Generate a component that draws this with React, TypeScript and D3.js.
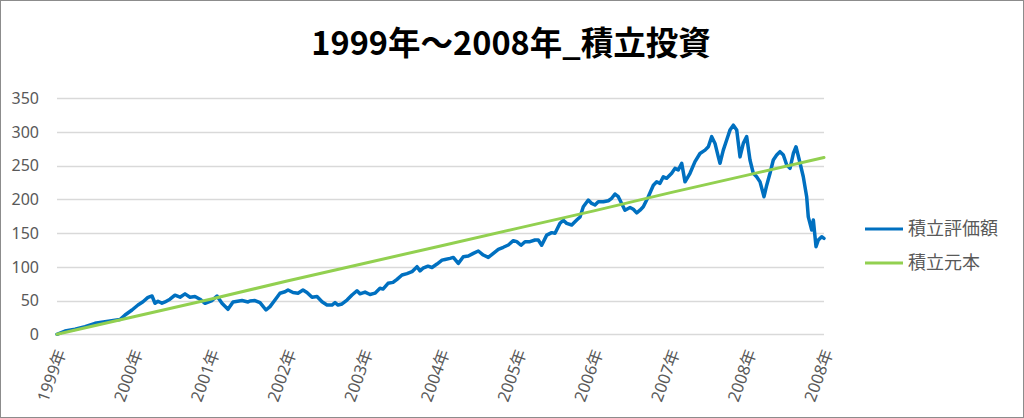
import React from "react";
import * as d3 from "d3";

const TITLE = "1999年～2008年_積立投資";
const X_LABELS = ["1999年", "2000年", "2001年", "2002年", "2003年", "2004年", "2005年", "2006年", "2007年", "2008年", "2008年"];
const Y_TICKS = [0, 50, 100, 150, 200, 250, 300, 350];
const SERIES_NAMES = ["積立評価額", "積立元本"];

// 積立元本 (principal), read at each year tick position
const PRINCIPAL_T = [0, 1, 2, 3, 4, 5, 6, 7, 8, 9, 10];
const PRINCIPAL_V = [0, 26, 52, 79, 105, 131, 157, 183, 210, 236, 262];

// 積立評価額 (valuation): position along axis (0..10 year ticks), value
const VALUATION_T = [
  0, 0.104, 0.235, 0.365, 0.495, 0.626, 0.756, 0.821, 0.887, 0.978,
  1.056, 1.121, 1.186, 1.239, 1.278, 1.317, 1.369, 1.408, 1.473, 1.538,
  1.604, 1.669, 1.734, 1.799, 1.864, 1.930, 2.021, 2.086, 2.151, 2.229,
  2.295, 2.412, 2.490, 2.516, 2.581, 2.647, 2.725, 2.777, 2.842, 2.907,
  2.973, 3.012, 3.077, 3.142, 3.207, 3.259, 3.325, 3.390, 3.455, 3.520,
  3.585, 3.625, 3.664, 3.716, 3.781, 3.846, 3.911, 3.950, 4.016, 4.081,
  4.146, 4.211, 4.250, 4.316, 4.381, 4.433, 4.498, 4.563, 4.628, 4.694,
  4.733, 4.772, 4.837, 4.889, 4.954, 5.020, 5.059, 5.124, 5.167, 5.232,
  5.297, 5.363, 5.428, 5.493, 5.558, 5.623, 5.689, 5.754, 5.819, 5.884,
  5.949, 5.994, 6.050, 6.102, 6.167, 6.232, 6.275, 6.319, 6.385, 6.450,
  6.493, 6.558, 6.601, 6.645, 6.711, 6.776, 6.819, 6.862, 6.927, 6.971,
  7.014, 7.057, 7.123, 7.188, 7.232, 7.275, 7.318, 7.362, 7.405, 7.471,
  7.514, 7.558, 7.601, 7.644, 7.709, 7.775, 7.819, 7.862, 7.905, 7.949,
  8.014, 8.057, 8.100, 8.145, 8.188, 8.253, 8.318, 8.383, 8.449, 8.492,
  8.536, 8.579, 8.622, 8.644, 8.687, 8.731, 8.774, 8.818, 8.862, 8.905,
  8.948, 8.992, 9.035, 9.078, 9.122, 9.166, 9.218, 9.253, 9.296, 9.339,
  9.383, 9.426, 9.470, 9.514, 9.557, 9.600, 9.635, 9.678, 9.730, 9.774,
  9.795, 9.840, 9.861, 9.896, 9.926, 9.970, 10.0,
];
const VALUATION_V = [
  0, 4.9, 7.4, 11.3, 16.3, 18.7, 21, 22, 28.6, 36,
  43.4, 48.3, 54.8, 56.8, 46, 49, 46, 48, 52, 58,
  55, 60, 55, 56, 52, 46, 50, 56.8, 46, 37,
  48, 50, 48, 49.4, 50, 46.9, 36, 41, 50.8, 60.8,
  63, 65.7, 62, 61, 65.7, 62, 54.8, 56, 48.3, 43.4,
  43.4, 47, 43.4, 45, 50.8, 58.3, 64.6, 60, 62.6, 59,
  61, 68.2, 67, 75.6, 77, 81.5, 87.9, 90, 92.8, 100.2,
  94, 98, 101, 99, 104.2, 110, 111, 112.6, 114, 105,
  115, 116, 120, 123.5, 117.5, 114, 120, 126, 129, 132.4,
  138.8, 137.3, 132, 137.3, 137.3, 139.8, 139.8, 132, 147, 150.7,
  149.7, 164.5, 169, 164.5, 162, 169.4, 174, 189, 199, 194,
  191.7, 196.5, 196.5, 198, 201.6, 208, 204, 194, 184, 188,
  185.3, 180, 184, 189, 204, 221, 226, 223.8, 233.6, 231.2,
  238.7, 246, 243.5, 253.5, 226, 238.7, 255.9, 268, 273, 278,
  293, 283, 263, 253.5, 273, 288, 302.7, 310, 302.8, 263,
  283, 293, 258.4, 238.7, 233.6, 226, 204, 221, 238.7, 258.4,
  265.8, 270.7, 265.8, 251, 246, 268, 278, 258.4, 233.6, 204,
  174, 154.6, 169.4, 129.9, 139.8, 144.7, 142.3,
];

const W = 1024;
const H = 418;
const FONT = "'Noto Sans', 'Noto Sans CJK JP', sans-serif";
const CJK = "'Noto Sans CJK JP', sans-serif";

export default function App() {
  const x = d3.scaleLinear().domain([0, 10]).range([57, 824]);
  const y = d3.scaleLinear().domain([0, 350]).range([334.3, 98.2]);

  const valuation: [number, number][] = VALUATION_T.map((t, i) => [t, VALUATION_V[i]]);
  const principal: [number, number][] = PRINCIPAL_T.map((t, i) => [t, PRINCIPAL_V[i]]);

  const line = d3
    .line<[number, number]>()
    .x((d) => x(d[0]))
    .y((d) => y(d[1]));

  const blue = "#0070C0";
  const green = "#92D050";
  const labelColor = "#595959";

  return (
    <div style={{ position: "fixed", left: 0, top: 0, width: W, height: H, background: "#fff" }}>
      <svg width={W} height={H} style={{ display: "block" }}>
        <rect x={0.5} y={0.5} width={W - 1} height={H - 1} fill="#fff" stroke="#8C8C8C" strokeWidth={1} />
        <text
          x={511}
          y={55}
          textAnchor="middle"
          fontFamily={CJK}
          fontWeight={700}
          fontSize={32.5}
          fill="#000"
        >
          {TITLE}
        </text>

        {Y_TICKS.map((v) => (
          <g key={v}>
            <line x1={57} x2={824} y1={Math.round(y(v)) + 0.5} y2={Math.round(y(v)) + 0.5} stroke="#D9D9D9" strokeWidth={1.5} />
            <text
              x={39}
              y={y(v)}
              dy="0.36em"
              textAnchor="end"
              fontFamily={FONT}
              fontSize={16}
              fill={labelColor}
            >
              {v}
            </text>
          </g>
        ))}

        {X_LABELS.map((lab, i) => (
          <text
            key={i}
            transform={`translate(${x(i) + 4},${350}) rotate(-70)`}
            textAnchor="end"
            dy="0.35em"
            fontFamily={FONT}
            fontSize={16.5}
            fill={labelColor}
          >
            {lab}
          </text>
        ))}

        <path d={line(valuation) || ""} fill="none" stroke={blue} strokeWidth={3.5} strokeLinejoin="round" strokeLinecap="round" />
        <path d={line(principal) || ""} fill="none" stroke={green} strokeWidth={3} strokeLinejoin="round" strokeLinecap="round" />

        <g>
          <line x1={865} x2={903} y1={229} y2={229} stroke={blue} strokeWidth={3} />
          <text x={908} y={229} dy="0.36em" fontFamily={CJK} fontSize={18} fill={labelColor}>
            {SERIES_NAMES[0]}
          </text>
          <line x1={865} x2={903} y1={263} y2={263} stroke={green} strokeWidth={3} />
          <text x={908} y={263} dy="0.36em" fontFamily={CJK} fontSize={18} fill={labelColor}>
            {SERIES_NAMES[1]}
          </text>
        </g>
      </svg>
    </div>
  );
}
